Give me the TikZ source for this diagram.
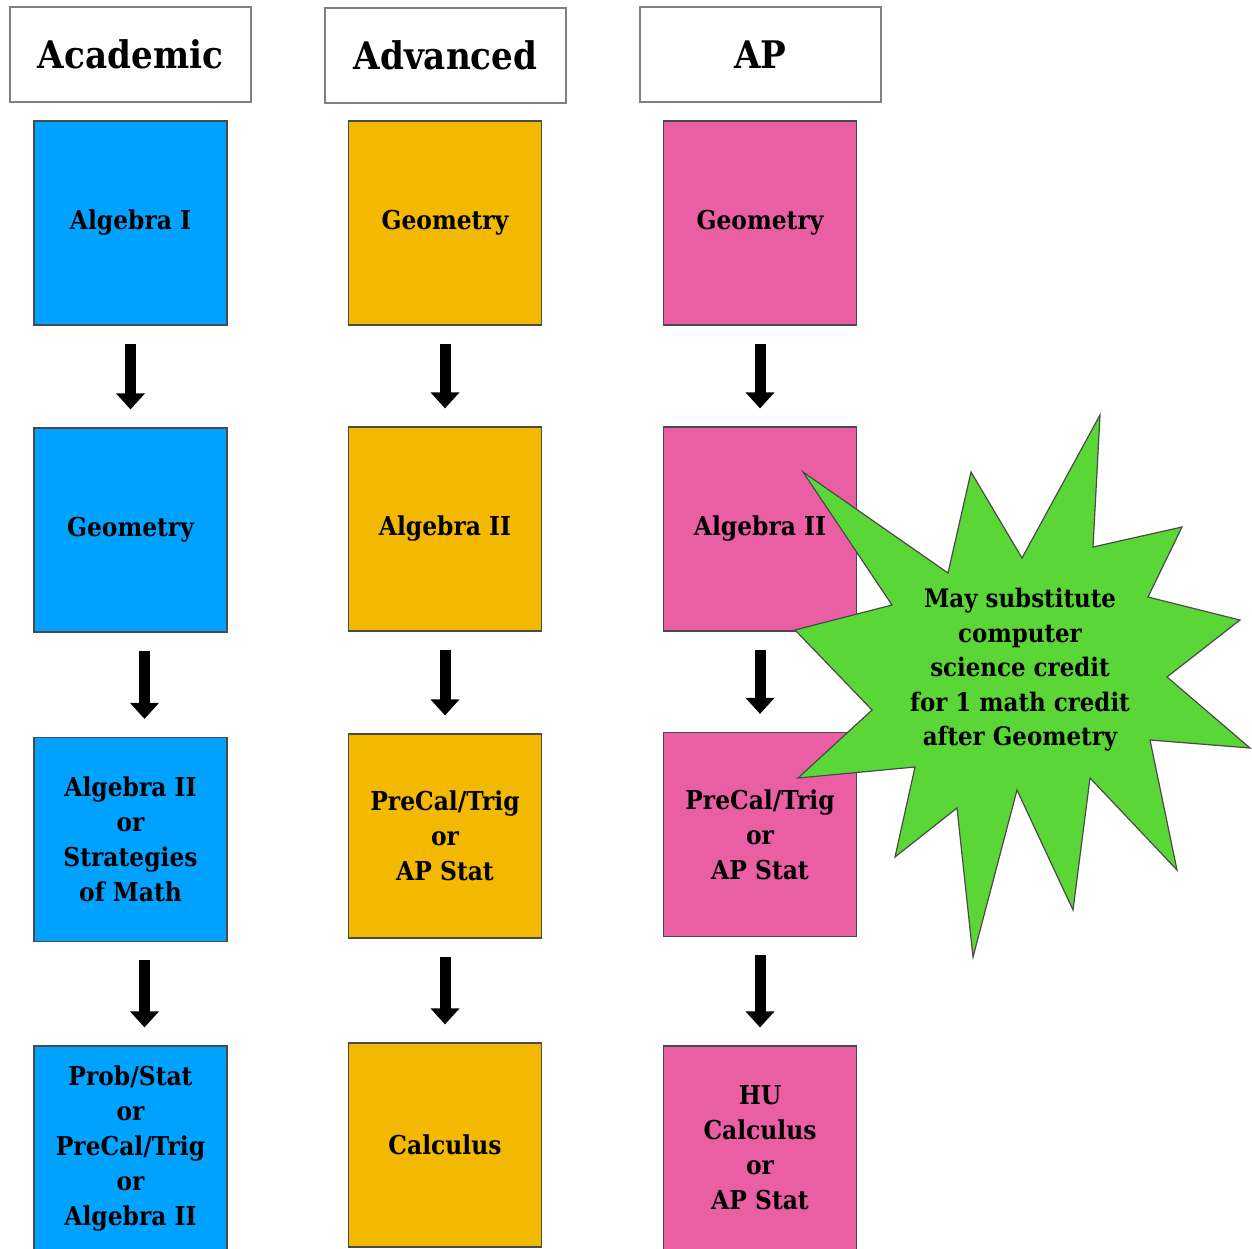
\documentclass[tikz,border=0pt]{standalone}
\usepackage{fontspec}
\setmainfont{DejaVu Serif}[FakeStretch=0.9]
\usepackage{xcolor}
\usepackage{tikz}
\usetikzlibrary{arrows.meta}
\definecolor{SkyBlue}{HTML}{00A2FF}
\definecolor{Amber}{HTML}{F3B800}
\definecolor{HotPink}{HTML}{EA5EA3}
\definecolor{Lime}{HTML}{5BD637}
\definecolor{BoxEdge}{HTML}{4A4A4A}
\definecolor{HeadEdge}{HTML}{808080}

\begin{document}
\begin{tikzpicture}[
  x=1pt,y=-1pt,
  track/.style={draw=HeadEdge,line width=2pt,minimum width=241pt,minimum height=95pt,inner sep=0pt,font=\fontsize{38}{44}\selectfont\bfseries},
  course/.style={draw=BoxEdge,line width=1.2pt,minimum width=193pt,minimum height=204pt,inner sep=0pt,align=center,font=\fontsize{26}{35}\selectfont\bfseries},
  burst/.style={draw=BoxEdge,fill=Lime,line width=1.2pt,line join=miter},
  note/.style={align=center,inner sep=0pt,font=\fontsize{25.5}{34.5}\selectfont\bfseries},
  arr/.style={-{Triangle[width=28pt,length=16pt]},line width=11pt,shorten <=18pt,shorten >=18pt}
]
\useasboundingbox (0,0) rectangle (1252,1249);
\node[track] (aca) at (130.5,54.5) {Academic};
\node[track] (adv) at (445.5,55.5) {Advanced};
\node[track] (ap) at (760.5,55) {AP};
\node[course,fill=SkyBlue] (aca1) at (130.5,223) {Algebra I};
\node[course,fill=SkyBlue] (aca2) at (130.5,530) {Geometry};
\node[course,fill=SkyBlue] (aca3) at (130.5,839.5) {Algebra II\\or\\Strategies\\of Math};
\node[course,fill=SkyBlue] (aca4) at (130.5,1148) {Prob/Stat\\or\\PreCal/Trig\\or\\Algebra II};
\node[course,fill=Amber] (adv1) at (445,223) {Geometry};
\node[course,fill=Amber] (adv2) at (445,529) {Algebra II};
\node[course,fill=Amber] (adv3) at (445,836) {PreCal/Trig\\or\\AP Stat};
\node[course,fill=Amber] (adv4) at (445,1145) {Calculus};
\node[course,fill=HotPink] (ap1) at (760,223) {Geometry};
\node[course,fill=HotPink] (ap2) at (760,529) {Algebra II};
\node[course,fill=HotPink] (ap3) at (760,834.5) {PreCal/Trig\\or\\AP Stat};
\node[course,fill=HotPink] (ap4) at (760,1148) {HU\\Calculus\\or\\AP Stat};
\draw[arr] (aca1.south) -- (aca2.north);
\draw[arr] ([xshift=14pt]aca2.south) -- ([xshift=14pt]aca3.north);
\draw[arr] ([xshift=14pt]aca3.south) -- ([xshift=14pt]aca4.north);
\draw[arr] (adv1.south) -- (adv2.north);
\draw[arr] (adv2.south) -- (adv3.north);
\draw[arr] (adv3.south) -- (adv4.north);
\draw[arr] (ap1.south) -- (ap2.north);
\draw[arr] (ap2.south) -- (ap3.north);
\draw[arr] (ap3.south) -- (ap4.north);
\draw[burst] (803,472) -- (948,573) -- (971,472) -- (1022,558) -- (1100,415) -- (1093,547)
  -- (1182,527) -- (1148,597) -- (1240,620) -- (1167,677) -- (1250,748) -- (1150,740)
  -- (1177,870) -- (1090,778) -- (1073,910) -- (1017,790) -- (973,957) -- (957,808)
  -- (895,857) -- (915,767) -- (798,778) -- (872,710) -- (795,630) -- (892,605) -- cycle;
\node[note] (subst) at (1020,670) {May substitute\\computer\\science credit\\for 1 math credit\\after Geometry};
\end{tikzpicture}
\end{document}
